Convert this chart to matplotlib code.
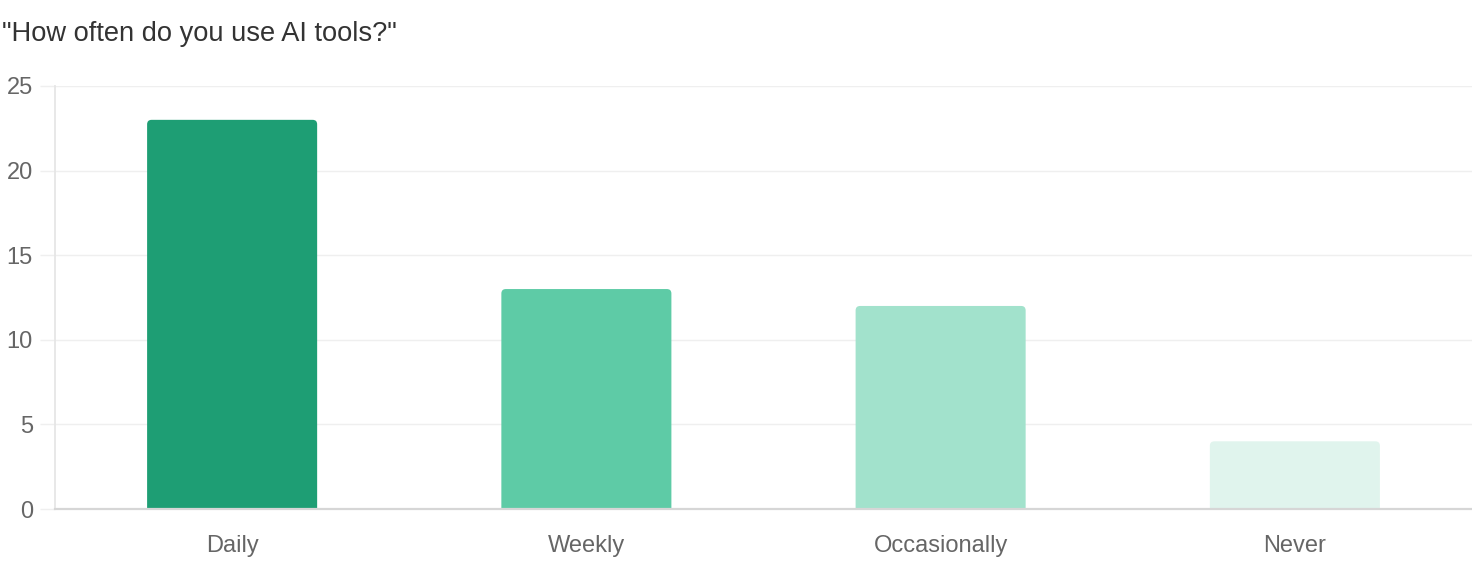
import matplotlib
matplotlib.use("Agg")
import matplotlib.pyplot as plt
from matplotlib.patches import FancyBboxPatch

categories = ["Daily", "Weekly", "Occasionally", "Never"]
values = [23, 13, 12, 4]
colors = ["#1e9e74", "#5ecba6", "#a2e2cc", "#e0f4ed"]
yticks = [0, 5, 10, 15, 20, 25]
title = '"How often do you use AI tools?"'

W, H = 1472, 582
fig = plt.figure(figsize=(W / 100, H / 100), dpi=100)
ax = fig.add_axes([55 / W, 73 / H, 1417 / W, 423 / H])
ax.set_xlim(-0.5, len(categories) - 0.5)
ax.set_ylim(0, 25)

bar_w = 0.48
radius_px = 4.5
x_per_px = (len(categories)) / 1417
y_per_px = 25 / 423
r = radius_px * x_per_px
aspect = y_per_px / x_per_px
for i, (v, c) in enumerate(zip(values, colors)):
    ext = radius_px * y_per_px
    p = FancyBboxPatch((i - bar_w / 2, -ext), bar_w, v + ext,
                       boxstyle=f"round,pad=0,rounding_size={r}",
                       mutation_aspect=aspect, facecolor=c, edgecolor="none",
                       zorder=2, clip_on=True)
    ax.add_patch(p)

ax.set_xticks(range(len(categories)))
ax.set_xticklabels(categories, fontsize=17, color="#666666",
                   fontfamily="Liberation Sans")
ax.set_yticks(yticks)
ax.set_yticklabels([str(t) for t in yticks], fontsize=17, color="#666666",
                   fontfamily="Liberation Sans")
ax.tick_params(axis="x", length=0, pad=19)
ax.tick_params(axis="y", length=11, width=1.0, color="#efefef", pad=5)
ax.grid(axis="y", color="#efefef", linewidth=1.0, zorder=0)
for s in ["top", "right"]:
    ax.spines[s].set_visible(False)
ax.spines["left"].set_color("#e6e6e6")
ax.spines["left"].set_linewidth(1.3)
ax.spines["bottom"].set_color("#d6d6d6")
ax.spines["bottom"].set_linewidth(1.6)
ax.spines["bottom"].set_zorder(3)

fig.text(2 / W, 1 - 41 / H, title, fontsize=19.6, color="#333333",
         fontfamily="Liberation Sans", va="baseline", ha="left")

fig.savefig("out.png", dpi=100)
